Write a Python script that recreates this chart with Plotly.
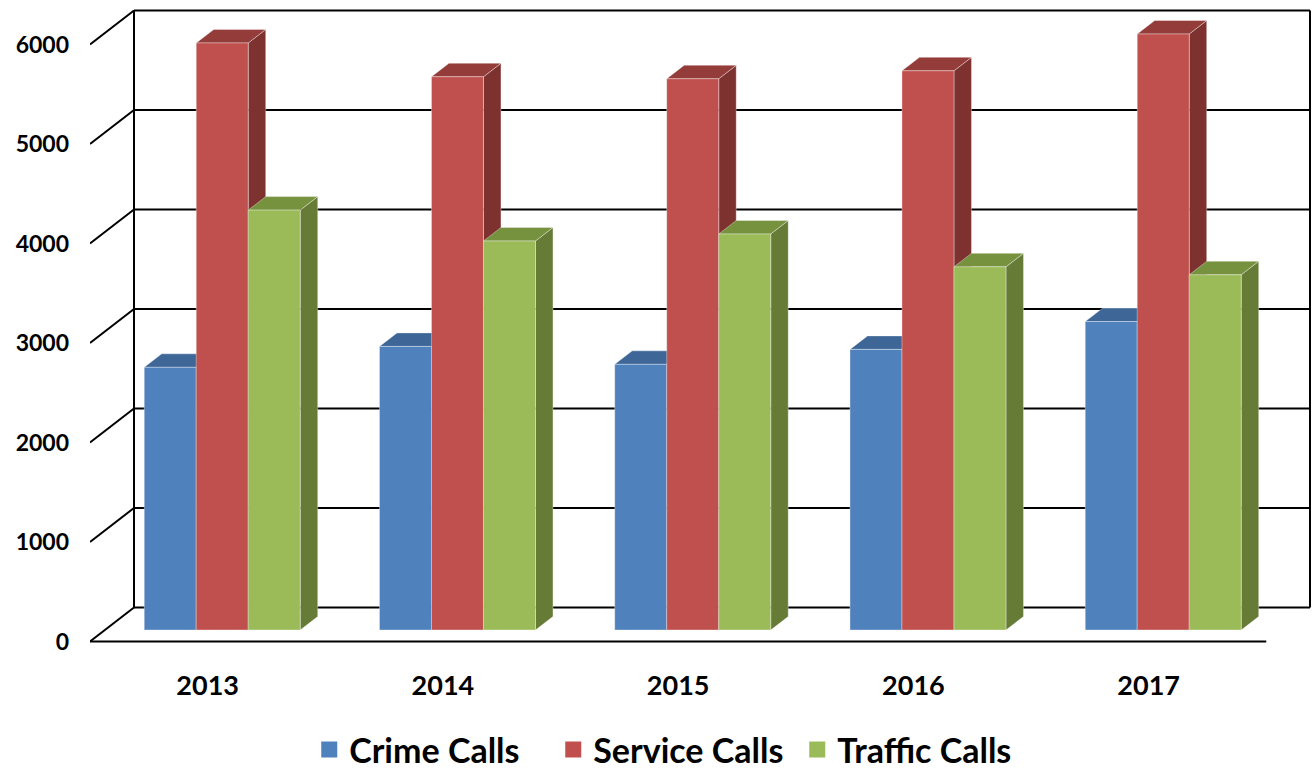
import plotly.graph_objects as go

# ---------------- data ----------------
years = ["2013", "2014", "2015", "2016", "2017"]
series_names = ["Crime Calls", "Service Calls", "Traffic Calls"]
crime_calls = [2640, 2850, 2670, 2820, 3100]
service_calls = [5900, 5560, 5540, 5620, 5990]
traffic_calls = [4220, 3910, 3980, 3650, 3570]
y_ticks = [0, 1000, 2000, 3000, 4000, 5000, 6000]

# ---------------- styling / pseudo-3D geometry ----------------
front_colors = ["#4F81BD", "#C0504D", "#9BBB59"]
top_colors = ["#3E6797", "#943C3A", "#77923F"]
side_colors = ["#375D8A", "#7E3230", "#667B36"]

PX_X = 235.25          # pixels per category
PX_Y = 0.0995          # pixels per value unit
LEFT_PX, RIGHT_PX, TOP_PX, BOTTOM_PX = 90, 1313, 9, 643
ZERO_PX = 641.5

BAR_W = 52 / PX_X
BAR_SHIFT_X, BAR_SHIFT_Y = 14.6 / PX_X, 11.5 / PX_Y
WALL_SHIFT_X, WALL_SHIFT_Y = 44 / PX_X, 34 / PX_Y
DEPTH_X, DEPTH_Y = 17.5 / PX_X, 13.5 / PX_Y

x_min = -0.5
x_max = -0.5 + (RIGHT_PX - LEFT_PX) / PX_X
x_wall_right = -0.5 + (1310 - LEFT_PX) / PX_X
y_min = -(BOTTOM_PX - ZERO_PX) / PX_Y
y_max = (ZERO_PX - TOP_PX) / PX_Y

font_family = "Lato, 'Liberation Sans', Arial, sans-serif"

fig = go.Figure()

# ---------------- walls & gridlines ----------------
gx, gy = [], []
wall_left = x_min + WALL_SHIFT_X
for t in y_ticks:
    gx += [wall_left, x_wall_right, None]
    gy += [t + WALL_SHIFT_Y, t + WALL_SHIFT_Y, None]
    gx += [x_min, wall_left, None]
    gy += [t, t + WALL_SHIFT_Y, None]
gx += [wall_left, wall_left, None, x_wall_right, x_wall_right, None]
gy += [y_ticks[0] + WALL_SHIFT_Y, y_ticks[-1] + WALL_SHIFT_Y, None,
       y_ticks[0] + WALL_SHIFT_Y, y_ticks[-1] + WALL_SHIFT_Y, None]
gx += [x_min, len(years) - 0.5]
gy += [0, 0]
fig.add_trace(go.Scatter(x=gx, y=gy, mode="lines",
                         line=dict(color="black", width=2),
                         hoverinfo="skip", showlegend=False))

# ---------------- 3D bars ----------------
all_series = [crime_calls, service_calls, traffic_calls]
for j, (name, vals) in enumerate(zip(series_names, all_series)):
    sx, sy, tx, ty, fx, fy = [], [], [], [], [], []
    for i, v in enumerate(vals):
        xl = i + (j - 1.5) * BAR_W + BAR_SHIFT_X
        xr = xl + BAR_W
        b = BAR_SHIFT_Y
        h = b + v
        sx += [xr, xr + DEPTH_X, xr + DEPTH_X, xr, xr, None]
        sy += [b, b + DEPTH_Y, h + DEPTH_Y, h, b, None]
        tx += [xl, xr, xr + DEPTH_X, xl + DEPTH_X, xl, None]
        ty += [h, h, h + DEPTH_Y, h + DEPTH_Y, h, None]
        fx += [xl, xr, xr, xl, xl, None]
        fy += [b, b, h, h, b, None]
    edge = dict(color="rgba(255,255,255,0.35)", width=1)
    fig.add_trace(go.Scatter(x=sx, y=sy, fill="toself", fillcolor=side_colors[j],
                             mode="lines", line=edge, hoverinfo="skip", showlegend=False))
    fig.add_trace(go.Scatter(x=tx, y=ty, fill="toself", fillcolor=top_colors[j],
                             mode="lines", line=edge, hoverinfo="skip", showlegend=False))
    fig.add_trace(go.Scatter(x=fx, y=fy, fill="toself", fillcolor=front_colors[j],
                             mode="lines", line=edge, name=name,
                             hoverinfo="name", showlegend=False))

# legend entries
for j, name in enumerate(series_names):
    fig.add_trace(go.Scatter(x=[None], y=[None], mode="markers", name=name,
                             marker=dict(symbol="square", size=16, color=front_colors[j])))

fig.update_layout(
    width=1315, height=769,
    margin=dict(l=LEFT_PX, r=1315 - RIGHT_PX, t=TOP_PX, b=769 - BOTTOM_PX),
    paper_bgcolor="white", plot_bgcolor="white",
    font=dict(family=font_family, color="black"),
    showlegend=True,
    legend=dict(orientation="h", xref="container", yref="container",
                x=0.5135, xanchor="center",
                y=1 - 750 / 769, yanchor="middle",
                entrywidth=199,
                font=dict(size=34, family=font_family, weight="bold"),
                itemsizing="trace"),
    xaxis=dict(range=[x_min, x_max], tickmode="array", automargin=False,
               tickvals=list(range(len(years))), ticktext=years,
               showgrid=False, zeroline=False, showline=False, ticks="",
               tickfont=dict(size=27, family=font_family, weight="bold"),
               ticklabelstandoff=24, fixedrange=True),
    yaxis=dict(range=[y_min, y_max], tickmode="array", automargin=False,
               tickvals=y_ticks, ticktext=[str(t) for t in y_ticks],
               showgrid=False, zeroline=False, showline=False, ticks="",
               tickfont=dict(size=23, family=font_family, weight="bold"),
               ticklabelstandoff=20, fixedrange=True),
)

fig.write_html("out.html", config={"displayModeBar": False},
               post_script="document.body.style.margin='0';document.body.style.overflow='hidden';")
